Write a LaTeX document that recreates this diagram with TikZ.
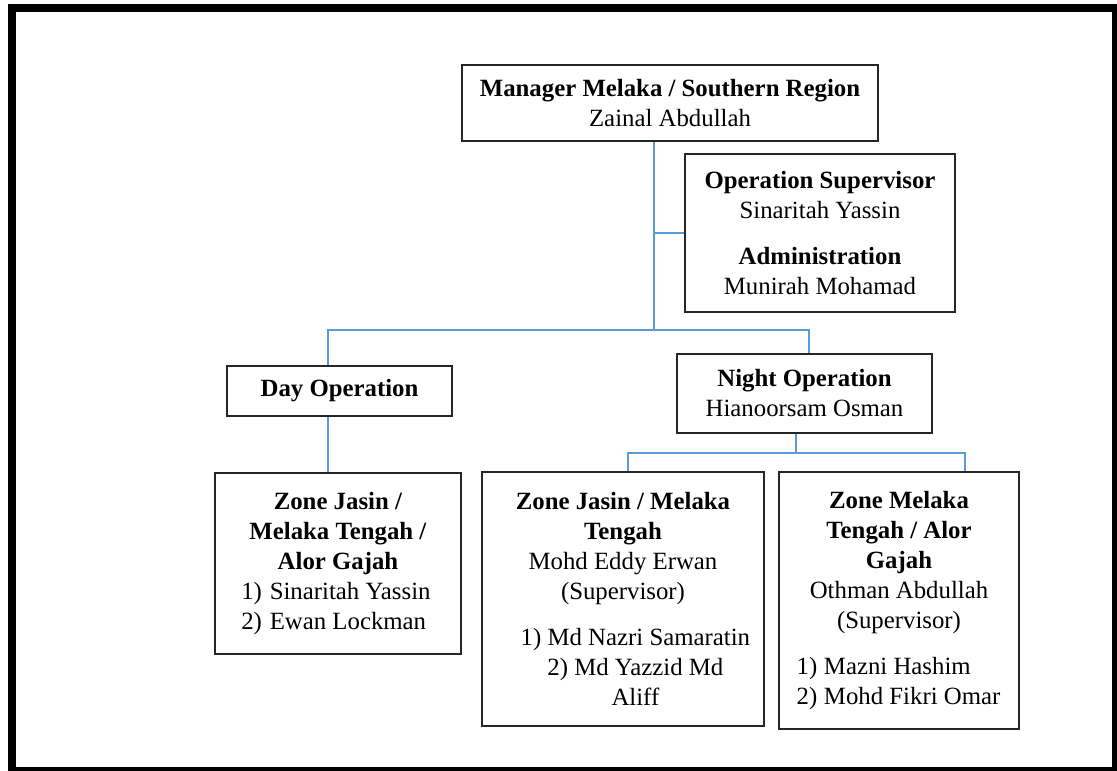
\documentclass[tikz,border=0pt]{standalone}
\usepackage{fontspec}
\setmainfont{Liberation Serif}
\usetikzlibrary{calc}
\definecolor{linkBlue}{RGB}{91,155,213}
\newcommand{\ListRow}[4]{\makebox[#1][l]{\makebox[#2][l]{#3}#4}}

\begin{document}
\begin{tikzpicture}[x=0.5pt,y=-0.5pt,
  box/.style={draw=black!85,line width=1pt,align=center,inner sep=0pt,
    font=\fontsize{12.4}{15}\selectfont},
  link/.style={draw=linkBlue,line width=1pt}]
\useasboundingbox (0,0) rectangle (1117,770);
\draw[line width=4pt] (12,8) rectangle (1116,771);

% top of the chart
\node[box,minimum width=208pt,minimum height=38pt] (mgr) at (670,103)
  {\textbf{Manager Melaka / Southern Region}\\Zainal Abdullah};
\node[box,minimum width=135pt,minimum height=79pt] (ops) at (820,233)
  {\textbf{Operation Supervisor}\\Sinaritah Yassin\\[8pt]
   \textbf{Administration}\\Munirah Mohamad};

% shifts
\node[box,minimum width=112.5pt,minimum height=25pt] (day) at (339.5,391)
  {\textbf{Day Operation}};
\node[box,minimum width=127.5pt,minimum height=39.5pt] (night) at (804.5,393.5)
  {\textbf{Night Operation}\\Hianoorsam Osman};

% zones
\node[box,minimum width=123pt,minimum height=90.5pt] (zoneA) at (338,563.5)
  {\textbf{Zone Jasin /}\\\textbf{Melaka Tengah /}\\\textbf{Alor Gajah}\\
   \ListRow{7.8em}{1.15em}{1)}{Sinaritah Yassin}\\
   \ListRow{7.8em}{1.15em}{2)}{Ewan Lockman}};
\node[box,minimum width=141pt,minimum height=127pt] (zoneB) at (623,599)
  {\textbf{Zone Jasin / Melaka}\\\textbf{Tengah}\\Mohd Eddy Erwan\\(Supervisor)\\[8pt]
   \hspace*{1em}1) Md Nazri Samaratin\\\hspace*{1em}2) Md Yazzid Md\\\hspace*{1em}Aliff};
\node[box,minimum width=120pt,minimum height=128.5pt] (zoneC) at (899,600.5)
  {\textbf{Zone Melaka}\\\textbf{Tengah / Alor}\\\textbf{Gajah}\\Othman Abdullah\\(Supervisor)\\[8pt]
   \ListRow{8.25em}{1.1em}{1)}{Mazni Hashim}\\
   \ListRow{8.25em}{1.1em}{2)}{Mohd Fikri Omar}};

% connectors
\coordinate (trunk) at (654,330);
\coordinate (dayTap) at (328,330);
\coordinate (nightTap) at (809,330);
\coordinate (nightBus) at (796,453);
\coordinate (busL) at (628,453);
\coordinate (busR) at (965,453);

\draw[link] (mgr.south -| trunk) -- (trunk);
\draw[link] (trunk |- ops.west) -- (ops.west);
\draw[link] (dayTap |- day.north) -- (dayTap) -- (nightTap) -- (nightTap |- night.north);
\draw[link] (dayTap |- day.south) -- (dayTap |- zoneA.north);
\draw[link] (night.south -| nightBus) -- (nightBus);
\draw[link] (busL |- zoneB.north) -- (busL) -- (busR) -- (busR |- zoneC.north);
\end{tikzpicture}
\end{document}
